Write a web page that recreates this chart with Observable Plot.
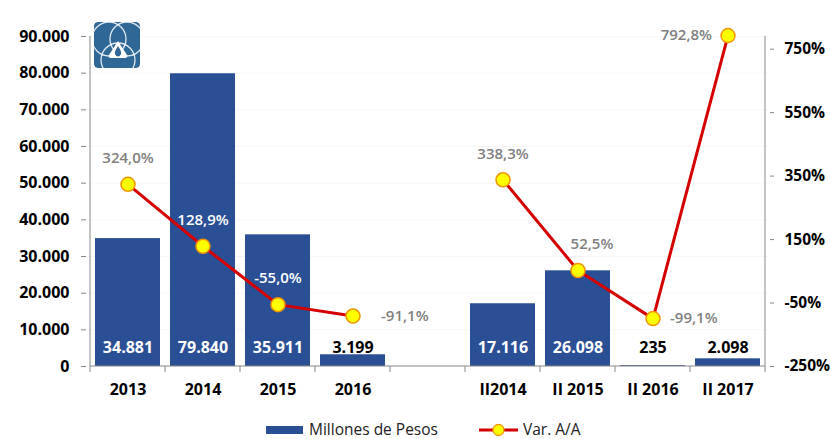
<!DOCTYPE html>
<html><head><meta charset="utf-8">
<script src="https://cdn.jsdelivr.net/npm/d3@7"></script>
<script src="https://cdn.jsdelivr.net/npm/@observablehq/plot@0.6"></script>
<style>
body{margin:0;background:#fff;font-family:"Open Sans",sans-serif;}
#wrap{position:relative;width:830px;height:439px;overflow:hidden;}
#wrap svg.plot g[aria-label$="tick label"] text{font-weight:bold;}
#logo{position:absolute;left:94px;top:22px;}
#legend{position:absolute;left:0;top:410px;}
</style></head><body>
<div id="wrap">
<svg id="logo" width="46" height="46" viewBox="0 0 46 46">
  <defs><clipPath id="lc"><rect x="0" y="0" width="46" height="46" rx="4"/></clipPath></defs>
  <g clip-path="url(#lc)">
    <rect x="0" y="0" width="46" height="46" rx="4" fill="#2f6797"/>
    <circle cx="15" cy="17" r="17" fill="none" stroke="#fff" stroke-opacity="0.85" stroke-width="1.3"/>
    <circle cx="33" cy="17" r="17" fill="none" stroke="#fff" stroke-opacity="0.85" stroke-width="1.3"/>
    <circle cx="24" cy="38" r="17" fill="none" stroke="#fff" stroke-opacity="0.85" stroke-width="1.3"/>
    <path d="M24 19 L33 33 Q34 36 31 36 L17 36 Q14 36 15 33 Z" fill="#fff"/>
    <path d="M24 24 Q28 30 27 32 Q26 34.5 24 34.5 Q22 34.5 21 32 Q20 30 24 24 Z" fill="#2f6797"/>
  </g>
</svg>
</div>
<script>
// ---- data ----
const categories = ["2013", "2014", "2015", "2016", " ", "II2014", "II 2015", "II 2016", "II 2017"];
const barCategories = ["2013", "2014", "2015", "2016", "II2014", "II 2015", "II 2016", "II 2017"];
const millonesDePesos = [34881, 79840, 35911, 3199, 17116, 26098, 235, 2098];
const varAA = [324.0, 128.9, -55.0, -91.1, 338.3, 52.5, -99.1, 792.8];
const periodo = ["anual", "anual", "anual", "anual", "semestral", "semestral", "semestral", "semestral"];
const leftTicks = [0, 10000, 20000, 30000, 40000, 50000, 60000, 70000, 80000, 90000];
const rightTicks = [-250, -50, 150, 350, 550, 750];
const leftDomain = [0, 90000];
const rightDomain = [-250, 790];

// ---- helpers ----
const loc = d3.formatLocale({decimal: ",", thousands: ".", grouping: [3], currency: ["$", ""], minus: "-"});
const fmtN = loc.format(",d");
const fmt1 = loc.format(".1f");
const fmtP = v => fmt1(v) + "%";
const toLeft = d3.scaleLinear().domain(rightDomain).range(leftDomain);

const data = barCategories.map((c, i) => ({
  cat: c, val: millonesDePesos[i], pct: varAA[i], grp: periodo[i], yp: toLeft(varAA[i])
}));

const BLUE = "#2b4f95", RED = "#d40000", GRAY = "#808080", AX = "#868686";
const F = "Open Sans";

const inBar = d => d.val >= 10000;
const above = ["2013", "2014", "2015", "II2014"];
const whitePct = ["2014", "2015"];

const plot = Plot.plot({
  width: 830, height: 410,
  marginLeft: 86, marginRight: 61, marginTop: 36, marginBottom: 44,
  className: "plot",
  style: {fontFamily: F, background: "#fff", color: "#000"},
  x: {domain: categories, paddingInner: 0.13, paddingOuter: 0.065, label: null},
  y: {domain: leftDomain, label: null},
  marks: [
    Plot.gridY(leftTicks.slice(1), {stroke: "#000", strokeOpacity: 0.035}),
    Plot.barY(data, {x: "cat", y: "val", fill: BLUE}),
    Plot.axisY({ticks: leftTicks, anchor: "left", tickFormat: fmtN, tickSize: 5, tickPadding: 12,
      fontSize: 16, fontWeight: "bold", fontFamily: F, stroke: AX, fill: "#000", label: null}),
    Plot.axisY({ticks: rightTicks.map(toLeft), anchor: "right", tickFormat: v => Math.round(toLeft.invert(v)) + "%",
      tickSize: 4, tickPadding: 11, fontSize: 15.5, fontWeight: "bold", fontFamily: F, stroke: AX, fill: "#000", label: null}),
    Plot.axisX({tickSize: 0, tickPadding: 17, fontSize: 16, fontWeight: "bold", fontFamily: F, fill: "#000", label: null}),
    // bar value labels
    Plot.text(data, {filter: inBar, x: "cat", y: 0, text: d => fmtN(d.val), dy: -19,
      fill: "#fff", fontSize: 16, fontWeight: "bold", fontFamily: F}),
    Plot.text(data, {filter: d => !inBar(d), x: "cat", y: 0, text: d => fmtN(d.val), dy: -19,
      fill: "#000", fontSize: 16, fontWeight: "bold", fontFamily: F}),
    // line + points
    Plot.line(data, {x: "cat", y: "yp", z: "grp", stroke: RED, strokeWidth: 3}),
    Plot.dot(data, {x: "cat", y: "yp", r: 7, fill: "#ffff00", stroke: "#f29400", strokeWidth: 1.5}),
    // percentage labels
    Plot.text(data, {filter: d => above.includes(d.cat), x: "cat", y: "yp", text: d => fmtP(d.pct), dy: -26,
      fill: d => whitePct.includes(d.cat) ? "#ffffff" : GRAY, fontSize: 15, fontWeight: 600, fontFamily: F}),
    Plot.text(data, {filter: d => d.cat === "II 2015", x: "cat", y: "yp", text: d => fmtP(d.pct), dy: -26, dx: 14,
      fill: GRAY, fontSize: 15, fontWeight: 600, fontFamily: F}),
    Plot.text(data, {filter: d => d.cat === "2016", x: "cat", y: "yp", text: d => fmtP(d.pct), dx: 28,
      textAnchor: "start", fill: GRAY, fontSize: 15, fontWeight: 600, fontFamily: F}),
    Plot.text(data, {filter: d => d.cat === "II 2016", x: "cat", y: "yp", text: d => fmtP(d.pct), dx: 17,
      textAnchor: "start", fill: GRAY, fontSize: 15, fontWeight: 600, fontFamily: F}),
    Plot.text(data, {filter: d => d.cat === "II 2017", x: "cat", y: "yp", text: d => fmtP(d.pct), dx: -16,
      textAnchor: "end", fill: GRAY, fontSize: 15, fontWeight: 600, fontFamily: F})
  ]
});

// axis lines and category boundary ticks, from the plot's own scales
const xs = plot.scale("x"), ys = plot.scale("y");
const svg = d3.select(plot);
const yb = ys.apply(leftDomain[0]), yt = ys.apply(leftDomain[1]);
const bounds = categories.map(c => xs.apply(c) + xs.bandwidth / 2 - xs.step / 2);
bounds.push(bounds[bounds.length - 1] + xs.step);
const xl = bounds[0], xr = bounds[bounds.length - 1];
const g = svg.append("g").attr("stroke", AX).attr("stroke-width", 1);
g.append("line").attr("x1", xl).attr("x2", xl).attr("y1", yt).attr("y2", yb);
g.append("line").attr("x1", xr).attr("x2", xr).attr("y1", yt).attr("y2", yb);
g.append("line").attr("x1", xl).attr("x2", xr).attr("y1", yb).attr("y2", yb);
bounds.forEach(b => g.append("line").attr("x1", b).attr("x2", b).attr("y1", yb).attr("y2", yb + 6));

document.getElementById("wrap").prepend(plot);

// legend
const lg = d3.select("#wrap").append("svg").attr("id", "legend").attr("width", 830).attr("height", 29);
lg.append("rect").attr("x", 266).attr("y", 16).attr("width", 37).attr("height", 8).attr("fill", BLUE);
lg.append("text").attr("x", 309).attr("y", 25).text("Millones de Pesos")
  .attr("font-family", F).attr("font-size", 15.5).attr("fill", "#222");
lg.append("line").attr("x1", 479).attr("x2", 518).attr("y1", 20).attr("y2", 20).attr("stroke", RED).attr("stroke-width", 3);
lg.append("circle").attr("cx", 498.5).attr("cy", 20).attr("r", 5.5).attr("fill", "#ffff00").attr("stroke", "#f29400").attr("stroke-width", 1.3);
lg.append("text").attr("x", 523).attr("y", 25).text("Var. A/A")
  .attr("font-family", F).attr("font-size", 15.5).attr("fill", "#222");
</script>
</body></html>
